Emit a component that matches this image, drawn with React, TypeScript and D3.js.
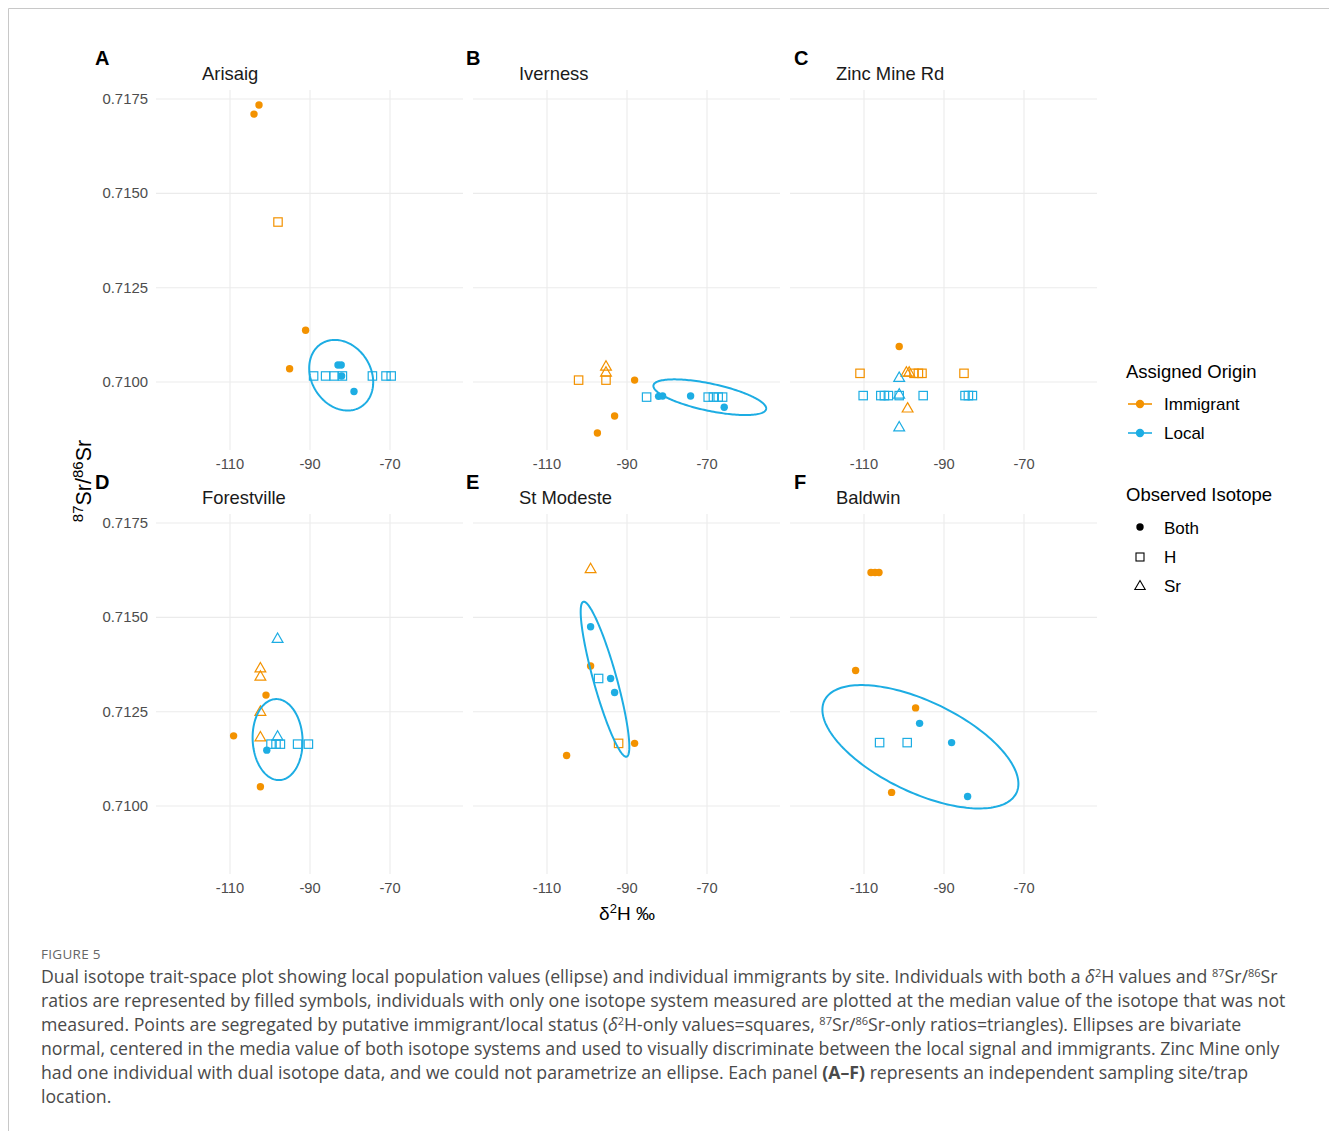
import React from 'react';
import * as d3 from 'd3';

const ORANGE = '#F39200';
const BLUE = '#1DADE3';

type Origin = 'Immigrant' | 'Local';
type Iso = 'Both' | 'H' | 'Sr';
type Pt = [number, number, Origin, Iso];
type Ell = { cx: number; cy: number; sx: number; sy: number; r: number } | null;

const siteNames = ['Arisaig', 'Iverness', 'Zinc Mine Rd', 'Forestville', 'St Modeste', 'Baldwin'];
const panelLetters = ['A', 'B', 'C', 'D', 'E', 'F'];
const xTicks = [-110, -90, -70];
const yTicks = [0.71, 0.7125, 0.715, 0.7175];
const xDomain = [-128.5, -51.75];
const yDomain = [0.708198, 0.717739];

const arisaigPoints: Pt[] = [
  [-102.75, 0.71734, 'Immigrant', 'Both'],
  [-104.0, 0.7171, 'Immigrant', 'Both'],
  [-91.1, 0.71137, 'Immigrant', 'Both'],
  [-95.1, 0.71035, 'Immigrant', 'Both'],
  [-98.0, 0.71424, 'Immigrant', 'H'],
  [-89.1, 0.71016, 'Local', 'H'],
  [-86.1, 0.71016, 'Local', 'H'],
  [-84.0, 0.71016, 'Local', 'H'],
  [-81.9, 0.71016, 'Local', 'H'],
  [-74.4, 0.71016, 'Local', 'H'],
  [-71.0, 0.71016, 'Local', 'H'],
  [-69.7, 0.71016, 'Local', 'H'],
  [-83.0, 0.71045, 'Local', 'Both'],
  [-82.2, 0.71045, 'Local', 'Both'],
  [-82.1, 0.71016, 'Local', 'Both'],
  [-79.0, 0.70975, 'Local', 'Both'],
];

const ivernessPoints: Pt[] = [
  [-102.1, 0.71005, 'Immigrant', 'H'],
  [-95.25, 0.71005, 'Immigrant', 'H'],
  [-95.25, 0.71041, 'Immigrant', 'Sr'],
  [-95.25, 0.71025, 'Immigrant', 'Sr'],
  [-88.1, 0.71005, 'Immigrant', 'Both'],
  [-93.1, 0.7091, 'Immigrant', 'Both'],
  [-97.4, 0.70865, 'Immigrant', 'Both'],
  [-85.1, 0.7096, 'Local', 'H'],
  [-69.7, 0.7096, 'Local', 'H'],
  [-68.4, 0.7096, 'Local', 'H'],
  [-67.2, 0.7096, 'Local', 'H'],
  [-66.1, 0.7096, 'Local', 'H'],
  [-82.1, 0.70962, 'Local', 'Both'],
  [-81.1, 0.70963, 'Local', 'Both'],
  [-74.1, 0.70963, 'Local', 'Both'],
  [-65.7, 0.70933, 'Local', 'Both'],
];

const zincMinePoints: Pt[] = [
  [-101.2, 0.71094, 'Immigrant', 'Both'],
  [-111.0, 0.71023, 'Immigrant', 'H'],
  [-97.5, 0.71023, 'Immigrant', 'H'],
  [-96.4, 0.71023, 'Immigrant', 'H'],
  [-95.5, 0.71023, 'Immigrant', 'H'],
  [-85.0, 0.71023, 'Immigrant', 'H'],
  [-99.4, 0.71025, 'Immigrant', 'Sr'],
  [-98.7, 0.71025, 'Immigrant', 'Sr'],
  [-99.1, 0.7093, 'Immigrant', 'Sr'],
  [-101.2, 0.71011, 'Local', 'Sr'],
  [-101.2, 0.70967, 'Local', 'Sr'],
  [-101.2, 0.7088, 'Local', 'Sr'],
  [-110.2, 0.70964, 'Local', 'H'],
  [-105.8, 0.70964, 'Local', 'H'],
  [-104.9, 0.70964, 'Local', 'H'],
  [-103.9, 0.70964, 'Local', 'H'],
  [-101.2, 0.70964, 'Local', 'H'],
  [-95.2, 0.70964, 'Local', 'H'],
  [-84.75, 0.70964, 'Local', 'H'],
  [-83.9, 0.70964, 'Local', 'H'],
  [-82.9, 0.70964, 'Local', 'H'],
];

const forestvillePoints: Pt[] = [
  [-98.1, 0.71443, 'Local', 'Sr'],
  [-98.1, 0.71184, 'Local', 'Sr'],
  [-102.4, 0.71365, 'Immigrant', 'Sr'],
  [-102.4, 0.71343, 'Immigrant', 'Sr'],
  [-102.4, 0.7125, 'Immigrant', 'Sr'],
  [-102.4, 0.71182, 'Immigrant', 'Sr'],
  [-101.0, 0.71294, 'Immigrant', 'Both'],
  [-109.1, 0.71186, 'Immigrant', 'Both'],
  [-102.4, 0.71051, 'Immigrant', 'Both'],
  [-99.75, 0.71164, 'Local', 'H'],
  [-98.5, 0.71164, 'Local', 'H'],
  [-97.4, 0.71164, 'Local', 'H'],
  [-93.1, 0.71164, 'Local', 'H'],
  [-90.4, 0.71164, 'Local', 'H'],
  [-100.8, 0.71148, 'Local', 'Both'],
];

const stModestePoints: Pt[] = [
  [-99.1, 0.71628, 'Immigrant', 'Sr'],
  [-99.1, 0.71475, 'Local', 'Both'],
  [-94.1, 0.71338, 'Local', 'Both'],
  [-93.1, 0.71301, 'Local', 'Both'],
  [-99.1, 0.71371, 'Immigrant', 'Both'],
  [-88.1, 0.71166, 'Immigrant', 'Both'],
  [-105.1, 0.71134, 'Immigrant', 'Both'],
  [-97.1, 0.71338, 'Local', 'H'],
  [-92.1, 0.71166, 'Immigrant', 'H'],
];

const baldwinPoints: Pt[] = [
  [-108.25, 0.71619, 'Immigrant', 'Both'],
  [-107.25, 0.71619, 'Immigrant', 'Both'],
  [-106.25, 0.71619, 'Immigrant', 'Both'],
  [-112.1, 0.71359, 'Immigrant', 'Both'],
  [-97.1, 0.7126, 'Immigrant', 'Both'],
  [-103.1, 0.71036, 'Immigrant', 'Both'],
  [-96.1, 0.71219, 'Local', 'Both'],
  [-88.1, 0.71168, 'Local', 'Both'],
  [-84.1, 0.71025, 'Local', 'Both'],
  [-106.1, 0.71168, 'Local', 'H'],
  [-99.2, 0.71168, 'Local', 'H'],
];

const siteEllipses: Ell[] = [
  { cx: -82.2, cy: 0.71018, sx: 8.0, sy: 0.000936, r: -0.2 },
  { cx: -69.3, cy: 0.709597, sx: 14.1, sy: 0.000473, r: -0.63 },
  null,
  { cx: -98.1, cy: 0.71176, sx: 6.25, sy: 0.001074, r: -0.05 },
  { cx: -95.5, cy: 0.71336, sx: 6.08, sy: 0.002054, r: -0.87 },
  { cx: -95.9, cy: 0.71157, sx: 24.5, sy: 0.001635, r: -0.6 },
];

const sitePoints = [arisaigPoints, ivernessPoints, zincMinePoints, forestvillePoints, stModestePoints, baldwinPoints];

const colLeft = [156, 473, 790];
const letterX = [95, 466, 794];
const rowTop = [90, 514];
const PW = 307;
const PH = 360;
const FONT = "'Liberation Sans', Arial, Helvetica, sans-serif";
const CFONT = "'Open Sans', 'Noto Sans', sans-serif";

const colorOf = (o: Origin) => (o === 'Immigrant' ? ORANGE : BLUE);

function Marker({ x, y, iso, color }: { x: number; y: number; iso: Iso; color: string }) {
  if (iso === 'Both') return <circle cx={x} cy={y} r={3.7} fill={color} />;
  if (iso === 'H')
    return <rect x={x - 4.2} y={y - 4.2} width={8.4} height={8.4} fill="none" stroke={color} strokeWidth={1.2} />;
  return (
    <path
      d={`M${x},${y - 5.8}L${x + 5.4},${y + 3.6}L${x - 5.4},${y + 3.6}Z`}
      fill="none"
      stroke={color}
      strokeWidth={1.2}
      strokeLinejoin="miter"
    />
  );
}

function Panel({ i }: { i: number }) {
  const col = i % 3;
  const row = Math.floor(i / 3);
  const left = colLeft[col];
  const top = rowTop[row];
  const xs = d3.scaleLinear().domain(xDomain).range([left, left + PW]);
  const ys = d3.scaleLinear().domain(yDomain).range([top + PH, top]);
  const e = siteEllipses[i];
  let ellD: string | null = null;
  if (e) {
    const pts: [number, number][] = d3.range(0, 181).map((k) => {
      const t = (k / 180) * 2 * Math.PI;
      return [
        e.cx + e.sx * Math.cos(t),
        e.cy + e.sy * (e.r * Math.cos(t) + Math.sqrt(1 - e.r * e.r) * Math.sin(t)),
      ];
    });
    ellD = d3
      .line<[number, number]>()
      .x((d) => xs(d[0]))
      .y((d) => ys(d[1]))
      .curve(d3.curveLinearClosed)(pts);
  }
  const fmt = d3.format('.4f');
  return (
    <g>
      {xTicks.map((t) => (
        <line key={'vx' + t} x1={xs(t)} x2={xs(t)} y1={top} y2={top + PH} stroke="#EBEBEB" strokeWidth={1.1} />
      ))}
      {yTicks.map((t) => (
        <line key={'hy' + t} x1={left} x2={left + PW} y1={ys(t)} y2={ys(t)} stroke="#EBEBEB" strokeWidth={1.1} />
      ))}
      {xTicks.map((t) => (
        <text key={'tx' + t} x={xs(t)} y={top + PH + 19} textAnchor="middle" fontSize={14.7} fill="#4D4D4D" fontFamily={FONT}>
          {String(t)}
        </text>
      ))}
      {col === 0 &&
        yTicks.map((t) => (
          <text key={'ty' + t} x={left - 8} y={ys(t) + 5} textAnchor="end" fontSize={14.9} fill="#4D4D4D" fontFamily={FONT}>
            {fmt(t)}
          </text>
        ))}
      {sitePoints[i].map((p, k) => (
        <Marker key={k} x={xs(p[0])} y={ys(p[1])} iso={p[3]} color={colorOf(p[2])} />
      ))}
      {ellD && <path d={ellD} fill="none" stroke={BLUE} strokeWidth={2} />}
      <text x={left + 46} y={top - 10} fontSize={18.4} fill="#1A1A1A" fontFamily={FONT}>
        {siteNames[i]}
      </text>
      <text x={letterX[col]} y={top - 25} fontSize={20} fontWeight="bold" fill="#000" fontFamily={FONT}>
        {panelLetters[i]}
      </text>
    </g>
  );
}

type Seg = { t: string; sup?: boolean; b?: boolean; it?: boolean };
const captionLines: Seg[][] = [
  [
    { t: 'Dual isotope trait-space plot showing local population values (ellipse) and individual immigrants by site. Individuals with both a ' },
    { t: 'δ', it: true },
    { t: '2', sup: true },
    { t: 'H values and ' },
    { t: '87', sup: true },
    { t: 'Sr/' },
    { t: '86', sup: true },
    { t: 'Sr' },
  ],
  [{ t: 'ratios are represented by filled symbols, individuals with only one isotope system measured are plotted at the median value of the isotope that was not' }],
  [
    { t: 'measured. Points are segregated by putative immigrant/local status (' },
    { t: 'δ', it: true },
    { t: '2', sup: true },
    { t: 'H-only values=squares, ' },
    { t: '87', sup: true },
    { t: 'Sr/' },
    { t: '86', sup: true },
    { t: 'Sr-only ratios=triangles). Ellipses are bivariate' },
  ],
  [{ t: 'normal, centered in the media value of both isotope systems and used to visually discriminate between the local signal and immigrants. Zinc Mine only' }],
  [
    { t: 'had one individual with dual isotope data, and we could not parametrize an ellipse. Each panel ' },
    { t: '(A–F)', b: true },
    { t: ' represents an independent sampling site/trap' },
  ],
  [{ t: 'location.' }],
];

const CAP = 17.7;

function CaptionLine({ segs, y }: { segs: Seg[]; y: number }) {
  let prevSup = false;
  return (
    <text x={41} y={y} fontSize={CAP} fill="#4A4A4A" fontFamily={CFONT}>
      {segs.map((s, k) => {
        let dy = 0;
        if (s.sup && !prevSup) dy = -6.5;
        if (!s.sup && prevSup) dy = 6.5;
        prevSup = !!s.sup;
        return (
          <tspan
            key={k}
            dy={dy}
            fontSize={s.sup ? 11 : CAP}
            fontWeight={s.b ? 'bold' : 'normal'}
            fontStyle={s.it ? 'italic' : 'normal'}
          >
            {s.t}
          </tspan>
        );
      })}
    </text>
  );
}

export default function App() {
  return (
    <svg
      width={1329}
      height={1131}
      style={{ position: 'absolute', left: 0, top: 0, background: '#fff' }}
      xmlns="http://www.w3.org/2000/svg"
    >
      <rect x={0} y={0} width={1329} height={1131} fill="#fff" />
      <path d="M8.5,1131V8.5H1329" fill="none" stroke="#C8C8C8" strokeWidth={1} />
      {d3.range(6).map((i) => (
        <Panel key={i} i={i} />
      ))}
      {/* axis titles */}
      <text x={627} y={920} textAnchor="middle" fontSize={19} fill="#000" fontFamily={FONT}>
        δ<tspan dy={-7} fontSize={13}>2</tspan>
        <tspan dy={7}>H ‰</tspan>
      </text>
      <text transform="translate(91,481) rotate(-90)" textAnchor="middle" fontSize={21.5} fill="#000" fontFamily={FONT}>
        <tspan dy={-8} fontSize={15}>87</tspan>
        <tspan dy={8}>Sr/</tspan>
        <tspan dy={-8} fontSize={15}>86</tspan>
        <tspan dy={8}>Sr</tspan>
      </text>
      {/* legend */}
      <g fontFamily={FONT}>
        <text x={1126} y={378} fontSize={18.5} fill="#000">Assigned Origin</text>
        <line x1={1128} x2={1152} y1={404} y2={404} stroke={ORANGE} strokeWidth={1.6} />
        <circle cx={1140} cy={404} r={4.2} fill={ORANGE} />
        <text x={1164} y={410} fontSize={17} fill="#000">Immigrant</text>
        <line x1={1128} x2={1152} y1={433} y2={433} stroke={BLUE} strokeWidth={1.6} />
        <circle cx={1140} cy={433} r={4.2} fill={BLUE} />
        <text x={1164} y={439} fontSize={17} fill="#000">Local</text>
        <text x={1126} y={501} fontSize={18.5} fill="#000">Observed Isotope</text>
        <Marker x={1140} y={527} iso="Both" color="#000" />
        <text x={1164} y={534} fontSize={17} fill="#000">Both</text>
        <rect x={1136} y={553} width={8} height={8} fill="none" stroke="#000" strokeWidth={1.1} />
        <text x={1164} y={563} fontSize={17} fill="#000">H</text>
        <path d="M1140,580.5L1145.2,589.5L1134.8,589.5Z" fill="none" stroke="#000" strokeWidth={1.1} />
        <text x={1164} y={592} fontSize={17} fill="#000">Sr</text>
      </g>
      {/* caption */}
      <text x={41} y={959} fontSize={13.5} fill="#666" fontFamily={CFONT} letterSpacing={0.3}>
        FIGURE 5
      </text>
      {captionLines.map((segs, k) => (
        <CaptionLine key={k} segs={segs} y={983 + k * 24} />
      ))}
    </svg>
  );
}
